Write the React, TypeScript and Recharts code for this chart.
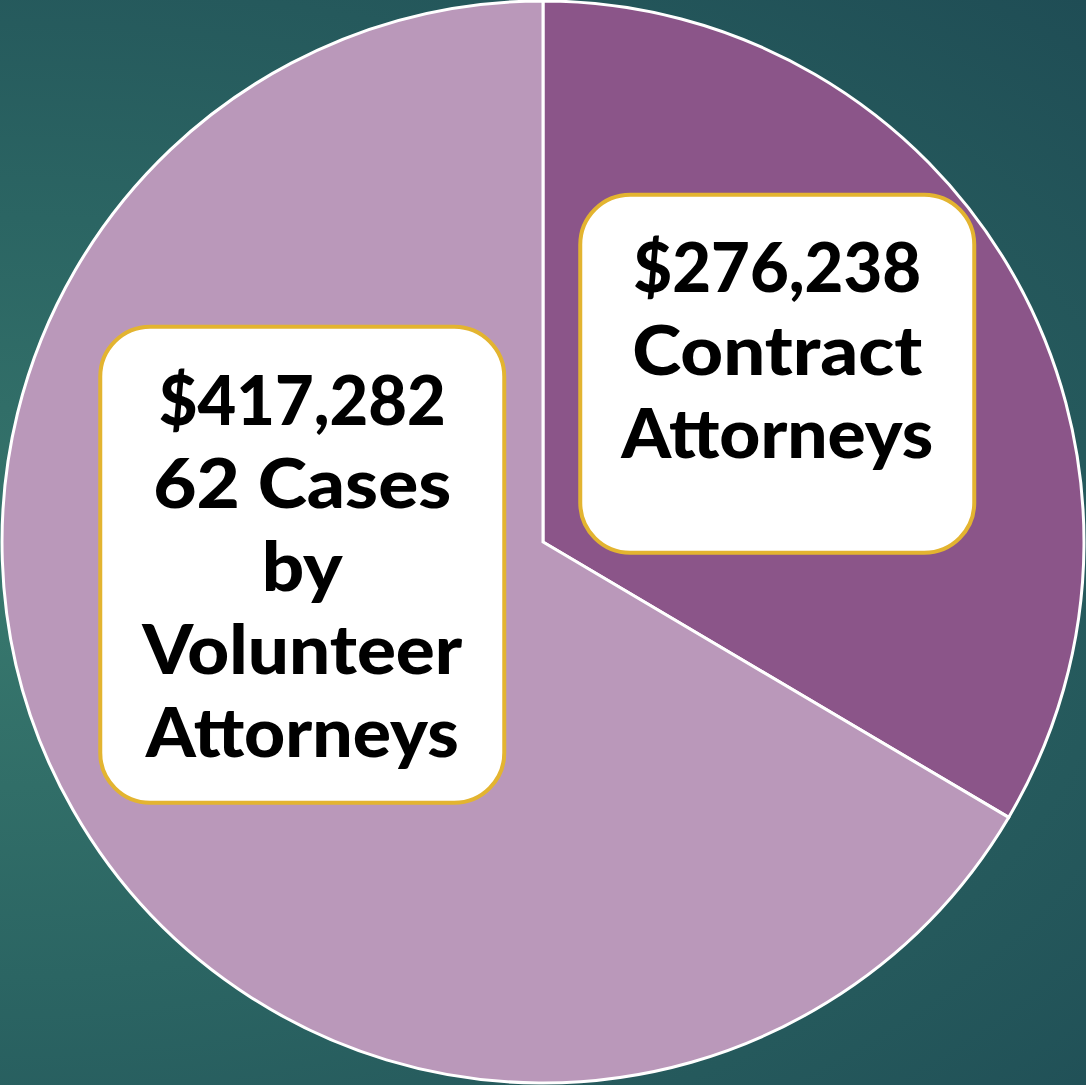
import * as React from "react";
import { Cell, Pie, PieChart } from "recharts";

// slice shares (clockwise from 12 o'clock)
const sliceNames = ["Contract Attorneys", "Volunteer Attorneys"];
const sliceShares = [33.5, 66.5];
const sliceColors = ["#8B5589", "#BA98BA"];

// label text for each slice
const labelLines = [
  ["$276,238", "Contract", "Attorneys"],
  ["$417,282", "62 Cases", "by", "Volunteer", "Attorneys"],
];

const W = 1086;
const H = 1085;

// where each callout box sits, relative to the pie centre in outer-radius units
const boxLayout = [
  { dx: 0.433, dy: -0.311, w: 394, h: 358, firstBaseline: -82, widths: [288, 290, 312] },
  { dx: -0.445, dy: 0.042, w: 404, h: 476, firstBaseline: -140, widths: [287, 298, 81, 320, 313] },
];

const LINE_HEIGHT = 83;

type LabelProps = {
  cx: number;
  cy: number;
  outerRadius: number;
  index: number;
};

function CalloutLabel({ cx, cy, outerRadius, index }: LabelProps) {
  const box = boxLayout[index];
  const lines = labelLines[index];
  const bx = cx + box.dx * outerRadius;
  const by = cy + box.dy * outerRadius;
  return (
    <g>
      <rect
        x={bx - box.w / 2}
        y={by - box.h / 2}
        width={box.w}
        height={box.h}
        rx={50}
        ry={50}
        fill="#ffffff"
        stroke="#E3B430"
        strokeWidth={4}
      />
      {lines.map((line, i) => (
        <text
          key={line + i}
          x={bx}
          y={by + box.firstBaseline + i * LINE_HEIGHT}
          textAnchor="middle"
          fontFamily="Lato, 'DejaVu Sans', sans-serif"
          fontWeight={900}
          fontSize={68}
          fill="#000000"
          textLength={box.widths[i]}
          lengthAdjust="spacingAndGlyphs"
        >
          {line}
        </text>
      ))}
    </g>
  );
}

export default function App() {
  const data = sliceNames.map((name, i) => ({ name, value: sliceShares[i] }));

  return (
    <div
      style={{
        width: W,
        height: H,
        position: "relative",
        background:
          "radial-gradient(ellipse at 0% 55%, #37776D 0%, #2B6563 45%, #1F4D55 100%)",
      }}
    >
      <style>{`body{margin:0}`}</style>
      <PieChart width={W} height={H} margin={{ top: 0, right: 0, bottom: 0, left: 0 }}>
        <Pie
          data={data}
          dataKey="value"
          nameKey="name"
          cx={543}
          cy={542}
          outerRadius={541}
          startAngle={90}
          endAngle={-270}
          stroke="#ffffff"
          strokeWidth={3}
          labelLine={false}
          label={(props: any) => <CalloutLabel {...props} />}
          isAnimationActive={false}
        >
          {data.map((d, i) => (
            <Cell key={d.name} fill={sliceColors[i]} />
          ))}
        </Pie>
      </PieChart>
    </div>
  );
}
